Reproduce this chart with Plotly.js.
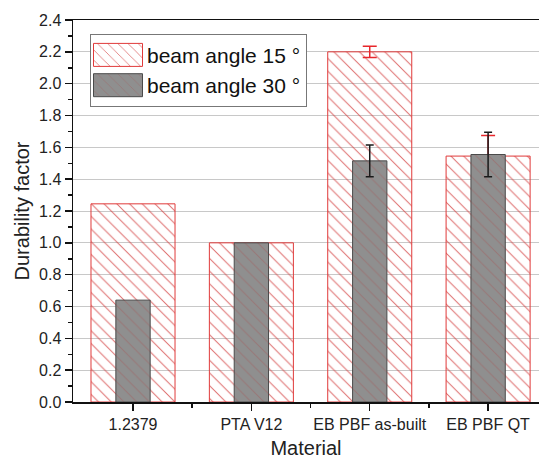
<!DOCTYPE html>
<html>
<head>
<meta charset="utf-8">
<script src="https://cdn.plot.ly/plotly-3.0.1.min.js"></script>
<style>html,body{margin:0;padding:0;background:#fff;}#chart{width:539px;height:459px;}</style>
</head>
<body>
<div id="chart"></div>
<script>
const categories = ["1.2379", "PTA V12", "EB PBF as-built", "EB PBF QT"];
const positions = [0, 1, 2, 3];
const angle15 = [1.245, 1.0, 2.2, 1.545];
const angle15Err = [NaN, NaN, 0.035, 0.13];
const angle30 = [0.64, 1.0, 1.515, 1.555];
const angle30Err = [NaN, NaN, 0.1, 0.14];
const yTicks = [0.0, 0.2, 0.4, 0.6, 0.8, 1.0, 1.2, 1.4, 1.6, 1.8, 2.0, 2.2, 2.4];

const font = "Liberation Sans, Arial, sans-serif";

const traces = [
  {
    type: "bar", name: "beam angle 15 °", x: positions, y: angle15, width: 0.71,
    marker: {
      color: "rgba(255,255,255,0)",
      line: { color: "#e03a3a", width: 1 },
      pattern: { shape: "\\", fgcolor: "rgba(210,60,60,0.75)", bgcolor: "rgba(255,255,255,0)", size: 9, solidity: 0.11 }
    },
    error_y: { type: "data", array: angle15Err, visible: true, color: "#e8262b", thickness: 1.5, width: 7 }
  },
  {
    type: "bar", name: "beam angle 30 °", x: positions, y: angle30, width: 0.29,
    marker: {
      color: "#8f8f8f", line: { color: "#4a4a4a", width: 1 },
      pattern: { shape: "\\", fgcolor: "rgba(160,100,100,0.55)", bgcolor: "#8f8f8f", size: 9, solidity: 0.11 }
    },
    error_y: { type: "data", array: angle30Err, visible: true, color: "#1a1a1a", thickness: 1.5, width: 4 }
  }
];

const layout = {
  width: 539, height: 459,
  margin: { l: 73, r: 0, t: 20, b: 57 },
  paper_bgcolor: "#fff", plot_bgcolor: "#fff",
  barmode: "overlay",
  showlegend: true,
  font: { family: font, color: "#222" },
  legend: {
    x: 0.0365, y: 0.964, xanchor: "left", yanchor: "top",
    bordercolor: "#777", borderwidth: 1, bgcolor: "#fff",
    font: { size: 21, family: font, color: "#111" },
    itemwidth: 46, tracegroupgap: 0, traceorder: "normal"
  },
  xaxis: {
    range: [-0.507, 3.43],
    tickvals: positions, ticktext: categories,
    ticks: "outside", ticklen: 7, tickwidth: 1.5, tickcolor: "#111",
    minor: { tickvals: [0.5, 1.5, 2.5], ticks: "outside", ticklen: 4, tickcolor: "#111", showgrid: false },
    showline: true, linecolor: "#111", linewidth: 1.5, mirror: true,
    showgrid: false, zeroline: false,
    tickfont: { size: 16, family: font, color: "#222" },
    title: { text: "Material", font: { size: 20, family: font, color: "#222" }, standoff: 10 }
  },
  yaxis: {
    range: [0, 2.4],
    tickvals: yTicks, ticktext: yTicks.map(v => v.toFixed(1)),
    ticks: "outside", ticklen: 7, tickwidth: 1.5, tickcolor: "#111",
    minor: { dtick: 0.1, ticks: "outside", ticklen: 4, tickcolor: "#111", showgrid: false },
    showline: true, linecolor: "#111", linewidth: 1.5,
    showgrid: true, gridcolor: "#c8c8c8", gridwidth: 1, zeroline: false,
    tickfont: { size: 16, family: font, color: "#222" },
    title: { text: "Durability factor", font: { size: 20, family: font, color: "#222" }, standoff: 4 }
  }
};

Plotly.newPlot("chart", traces, layout, { displayModeBar: false, staticPlot: true }).then(function () {
  document.querySelectorAll("#chart .legend path.legendbar, #chart .legend .legendpoints path").forEach(function (p) {
    p.setAttribute("d", "M23.5,11.5H-25.5V-11.5H23.5Z");
  });
});
</script>
</body>
</html>
